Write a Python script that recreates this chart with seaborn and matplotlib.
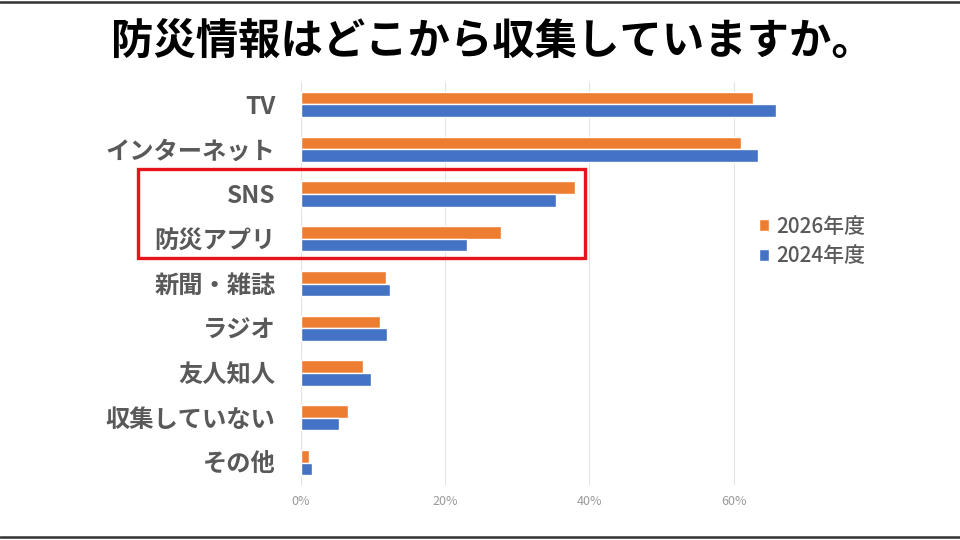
import pandas as pd
import matplotlib.pyplot as plt
import seaborn as sns
from matplotlib.patches import Rectangle
from matplotlib.lines import Line2D

# data (share of respondents)
categories = ['TV', 'インターネット', 'SNS', '防災アプリ', '新聞・雑誌', 'ラジオ', '友人知人', '収集していない', 'その他']
y2026 = [0.627, 0.610, 0.380, 0.277, 0.118, 0.110, 0.086, 0.065, 0.012]
y2024 = [0.658, 0.634, 0.354, 0.231, 0.124, 0.120, 0.097, 0.053, 0.015]
series = ['2026年度', '2024年度']
xticks = [0, 0.2, 0.4, 0.6]
xtick_labels = ['0%', '20%', '40%', '60%']

df = pd.DataFrame({
    'item': categories * 2,
    'value': y2026 + y2024,
    'year': [series[0]] * len(categories) + [series[1]] * len(categories),
})

sns.set_theme(style='white')
plt.rcParams['font.family'] = ['Noto Sans CJK JP', 'DejaVu Sans']

fig = plt.figure(figsize=(9.6, 5.4), dpi=100)
ax = fig.add_axes([0.3132, 0.1019, 0.5265, 0.7462])

sns.barplot(data=df, x='value', y='item', hue='year', hue_order=series,
            palette=['#ED7D31', '#4472C4'], orient='h', width=0.565,
            saturation=1, ax=ax, legend=True)

ax.set_xlim(0, 0.7)
ax.set_ylim(8.5, -0.5)
ax.set_xticks(xticks)
ax.set_xticklabels(xtick_labels, color='#9a9a9a', fontsize=9)
ax.grid(axis='x', color='#e3e3e3', linewidth=0.8)
ax.set_axisbelow(True)
ax.set_xlabel('')
ax.set_ylabel('')
for s in ax.spines.values():
    s.set_visible(False)
ax.tick_params(axis='y', length=0, pad=18, labelsize=17.5, labelcolor='#595959')
ax.tick_params(axis='x', length=0, pad=7)
for t in ax.get_yticklabels():
    t.set_fontweight('bold')

handles, labels = ax.get_legend_handles_labels()
leg = ax.legend(handles, labels, loc='center left', bbox_to_anchor=(0.771, 0.553),
                bbox_transform=fig.transFigure, frameon=False, fontsize=15,
                handlelength=0.5, handleheight=0.5, handletextpad=0.35,
                labelspacing=0.35, labelcolor='#595959')
for t in leg.get_texts():
    t.set_fontweight('medium')

fig.text(0.513, 0.922, '防災情報はどこから収集していますか。', ha='center', va='center',
         fontsize=30.5, fontweight='bold', color='black')

# red highlight box around SNS / 防災アプリ
fig.patches.append(Rectangle((138 / 960, 1 - 258 / 540), (585 - 138) / 960, (258 - 169) / 540,
                             transform=fig.transFigure, fill=False, edgecolor='#e8141c', linewidth=2.4))

# frame lines at top and bottom
fig.lines.append(Line2D([0, 1], [1 - 2 / 540, 1 - 2 / 540], transform=fig.transFigure, color='#333333', linewidth=1.8))
fig.lines.append(Line2D([0, 1], [3 / 540, 3 / 540], transform=fig.transFigure, color='#333333', linewidth=1.8))

fig.savefig('out.png', dpi=100)
